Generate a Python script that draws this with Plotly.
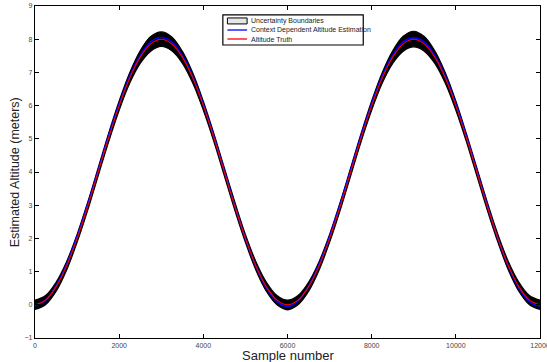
import plotly.graph_objects as go

# Sample numbers (every 250 samples)
samples = [i * 250 for i in range(49)]

# Altitude truth (meters)
truth = [0.00, 0.14, 0.54, 1.17, 2.00, 2.96, 4.00, 5.04, 6.00, 6.83, 7.46, 7.86, 8.00,
         7.86, 7.46, 6.83, 6.00, 5.04, 4.00, 2.96, 2.00, 1.17, 0.54, 0.14, 0.00,
         0.14, 0.54, 1.17, 2.00, 2.96, 4.00, 5.04, 6.00, 6.83, 7.46, 7.86, 8.00,
         7.86, 7.46, 6.83, 6.00, 5.04, 4.00, 2.96, 2.00, 1.17, 0.54, 0.14, 0.00]

# Context dependent estimation (meters)
estimate = [-0.03, 0.13, 0.57, 1.22, 2.06, 3.02, 4.05, 5.10, 6.05, 6.88, 7.51, 7.92, 8.05,
            7.92, 7.51, 6.87, 6.04, 5.08, 4.03, 2.98, 1.99, 1.15, 0.50, 0.09, -0.05,
            0.12, 0.56, 1.22, 2.06, 3.03, 4.06, 5.10, 6.06, 6.89, 7.52, 7.92, 8.04,
            7.92, 7.51, 6.88, 6.05, 5.09, 4.04, 2.99, 1.99, 1.15, 0.50, 0.09, -0.04]

# Upper / lower uncertainty boundaries (meters)
upper = [0.14, 0.28, 0.68, 1.30, 2.12, 3.08, 4.12, 5.17, 6.14, 6.99, 7.65, 8.08, 8.22,
         8.07, 7.64, 6.98, 6.13, 5.16, 4.12, 3.09, 2.12, 1.30, 0.68, 0.28, 0.14,
         0.28, 0.68, 1.30, 2.12, 3.08, 4.12, 5.17, 6.14, 6.99, 7.65, 8.09, 8.24,
         8.08, 7.65, 6.99, 6.14, 5.16, 4.12, 3.08, 2.12, 1.30, 0.68, 0.28, 0.14]
lower = [-0.14, 0.00, 0.40, 1.04, 1.88, 2.84, 3.88, 4.91, 5.86, 6.67, 7.27, 7.64, 7.78,
         7.65, 7.28, 6.67, 5.86, 4.92, 3.88, 2.84, 1.88, 1.04, 0.40, 0.00, -0.15,
         0.00, 0.40, 1.04, 1.88, 2.84, 3.88, 4.92, 5.86, 6.67, 7.27, 7.64, 7.77,
         7.64, 7.27, 6.67, 5.86, 4.92, 3.88, 2.84, 1.88, 1.04, 0.40, 0.00, -0.14]

legend_labels = ["Uncertainty Boundaries", "Context Dependent Altitude Estimation", "Altitude Truth"]
x_ticks = [0, 2000, 4000, 6000, 8000, 10000, 12000]
y_ticks = [-1, 0, 1, 2, 3, 4, 5, 6, 7, 8, 9]

FONT = "Liberation Sans, Arial, sans-serif"

fig = go.Figure()

# Uncertainty band (black)
fig.add_trace(go.Scatter(x=samples, y=upper, mode="lines", line=dict(color="black", width=1.2, shape="spline"),
                         showlegend=False, hoverinfo="skip"))
fig.add_trace(go.Scatter(x=samples, y=lower, mode="lines", line=dict(color="black", width=1.2, shape="spline"),
                         fill="tonexty", fillcolor="black", showlegend=False, hoverinfo="skip"))
fig.add_trace(go.Scatter(x=samples, y=estimate, mode="lines", line=dict(color="#0000ff", width=1.6, shape="spline"),
                         showlegend=False))
fig.add_trace(go.Scatter(x=samples, y=truth, mode="lines", line=dict(color="#ff0000", width=1.1, shape="spline"),
                         showlegend=False))

axis_common = dict(showline=True, linecolor="black", linewidth=1.2, mirror="ticks", ticks="inside",
                   ticklen=4, tickcolor="black", showgrid=False, zeroline=False, automargin=False,
                   ticklabeloverflow="allow",
                   tickfont=dict(family=FONT, size=7, color="#444"))

# Manual legend (paper coordinates)
shapes = [
    dict(type="rect", xref="paper", yref="paper", x0=0.372, x1=0.650, y0=0.8825, y1=0.973,
         line=dict(color="black", width=1.2), fillcolor="white", layer="above"),
    dict(type="rect", xref="paper", yref="paper", x0=0.381, x1=0.420, y0=0.946, y1=0.964,
         line=dict(color="black", width=1), fillcolor="#e6e6e6", layer="above"),
    dict(type="line", xref="paper", yref="paper", x0=0.381, x1=0.420, y0=0.9277, y1=0.9277,
         line=dict(color="#0000ff", width=1.3), layer="above"),
    dict(type="line", xref="paper", yref="paper", x0=0.381, x1=0.420, y0=0.9006, y1=0.9006,
         line=dict(color="#ff0000", width=1.3), layer="above"),
]
annotations = []
for lab, yy in zip(legend_labels, [0.955, 0.9277, 0.9006]):
    annotations.append(dict(text=lab, xref="paper", yref="paper", x=0.4238, y=yy, xanchor="left",
                            yanchor="middle", showarrow=False, font=dict(family=FONT, size=7, color="#222")))

fig.update_layout(
    width=547, height=362,
    margin=dict(l=35, r=7, t=6, b=24),
    plot_bgcolor="white", paper_bgcolor="white",
    xaxis=dict(range=[0, 12000], tickvals=x_ticks, ticktext=[str(v) for v in x_ticks], **axis_common),
    yaxis=dict(range=[-1, 9], tickvals=y_ticks, ticktext=["\u22121"] + [str(v) for v in y_ticks[1:]],
               **axis_common),
    shapes=shapes,
    annotations=annotations + [
        dict(text="Sample number", xref="paper", yref="paper", x=0.5, y=-0.052, xanchor="center",
             yanchor="middle", showarrow=False, font=dict(family=FONT, size=13, color="#222")),
        dict(text="Estimated Altitude (meters)", xref="paper", yref="paper", x=-0.039, y=0.5,
             xanchor="center", yanchor="middle", textangle=-90, showarrow=False,
             font=dict(family=FONT, size=12.5, color="#222")),
    ],
    showlegend=False,
)

fig.write_html("out.html", config={"displayModeBar": False},
               post_script="document.body.style.margin='0';")
